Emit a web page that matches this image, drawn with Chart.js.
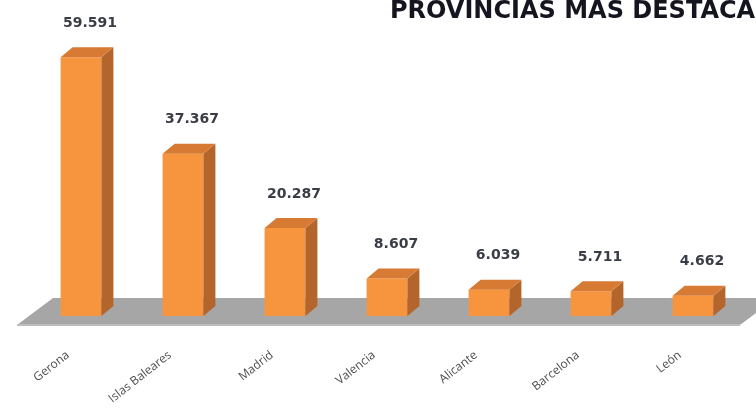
<!DOCTYPE html>
<html>
<head>
<meta charset="utf-8">
<script src="https://cdn.jsdelivr.net/npm/chart.js@4/dist/chart.umd.min.js"></script>
<style>
  body { margin: 0; background: #fff; }
  #wrap { width: 756px; height: 409px; position: relative; overflow: hidden; }
</style>
</head>
<body>
<div id="wrap"><canvas id="chart"></canvas></div>
<script>
// Datos
const provincias = ['Gerona', 'Islas Baleares', 'Madrid', 'Valencia', 'Alicante', 'Barcelona', 'León'];
const valores = [59.591, 37.367, 20.287, 8.607, 6.039, 5.711, 4.662];
const valorTextos = ['59.591', '37.367', '20.287', '8.607', '6.039', '5.711', '4.662'];
const titulo = 'PROVINCIAS MAS DESTACADAS';

// Profundidad del efecto 3D
const depthX = 12;
const depthY = -10;

// Suelo gris bajo las barras
const floorPlugin = {
  id: 'floor',
  beforeDatasetsDraw(chart) {
    const ctx = chart.ctx;
    const y0 = chart.scales.y.getPixelForValue(0);
    const left = chart.chartArea.left;
    const right = chart.chartArea.right;
    ctx.save();
    ctx.fillStyle = '#a6a6a6';
    ctx.beginPath();
    ctx.moveTo(left + 23, y0 - 18);
    ctx.lineTo(right + 32, y0 - 18);
    ctx.lineTo(right - 4, y0 + 9);
    ctx.lineTo(left - 13, y0 + 9);
    ctx.closePath();
    ctx.fill();
    ctx.fillStyle = '#bdbdbd';
    ctx.fillRect(left - 13, y0 + 8, right - left + 9, 2);
    ctx.restore();
  }
};

// Caras lateral y superior de cada barra + etiquetas de valor
const bar3dPlugin = {
  id: 'bar3d',
  afterDatasetsDraw(chart) {
    const ctx = chart.ctx;
    const meta = chart.getDatasetMeta(0);
    ctx.save();
    meta.data.forEach((bar, i) => {
      const half = bar.width / 2;
      const l = bar.x - half, r = bar.x + half;
      // lateral
      ctx.fillStyle = '#b3652b';
      ctx.beginPath();
      ctx.moveTo(r, bar.y);
      ctx.lineTo(r + depthX, bar.y + depthY);
      ctx.lineTo(r + depthX, bar.base + depthY);
      ctx.lineTo(r, bar.base);
      ctx.closePath();
      ctx.fill();
      // superior
      ctx.fillStyle = '#d77a33';
      ctx.beginPath();
      ctx.moveTo(l, bar.y);
      ctx.lineTo(l + depthX, bar.y + depthY);
      ctx.lineTo(r + depthX, bar.y + depthY);
      ctx.lineTo(r, bar.y);
      ctx.closePath();
      ctx.fill();
      // valor
      ctx.fillStyle = '#3a3d45';
      ctx.font = 'bold 14px "DejaVu Sans"';
      ctx.textAlign = 'center';
      ctx.textBaseline = 'middle';
      ctx.fillText(valorTextos[i], bar.x + 9, bar.y - 34);
    });
    ctx.restore();
  }
};

// Título (recortado por el borde derecho, como en el original)
const titlePlugin = {
  id: 'titulo',
  afterDraw(chart) {
    const ctx = chart.ctx;
    ctx.save();
    ctx.fillStyle = '#15151f';
    ctx.font = 'bold 24px "DejaVu Sans"';
    ctx.textAlign = 'left';
    ctx.textBaseline = 'middle';
    ctx.fillText(titulo, 390, 12);
    ctx.restore();
  }
};

const ctx = document.getElementById('chart').getContext('2d');
new Chart(ctx, {
  type: 'bar',
  data: {
    labels: provincias,
    datasets: [{
      data: valores,
      backgroundColor: '#f7953f',
      borderWidth: 0,
      categoryPercentage: 1,
      barPercentage: 0.4
    }]
  },
  options: {
    responsive: true,
    maintainAspectRatio: false,
    animation: false,
    layout: { padding: { top: 12, left: 30, right: 12, bottom: 0 } },
    plugins: {
      legend: { display: false },
      tooltip: { enabled: false }
    },
    scales: {
      x: {
        grid: { display: false },
        border: { display: false },
        ticks: {
          color: '#4d4d4d',
          font: { family: 'Open Sans', size: 12 },
          minRotation: 38,
          maxRotation: 38,
          padding: 24,
          labelOffset: -13
        },
        afterFit(scale) { scale.height = 93; }
      },
      y: {
        display: false,
        min: 0,
        max: 70
      }
    }
  },
  plugins: [floorPlugin, bar3dPlugin, titlePlugin]
});
</script>
</body>
</html>
